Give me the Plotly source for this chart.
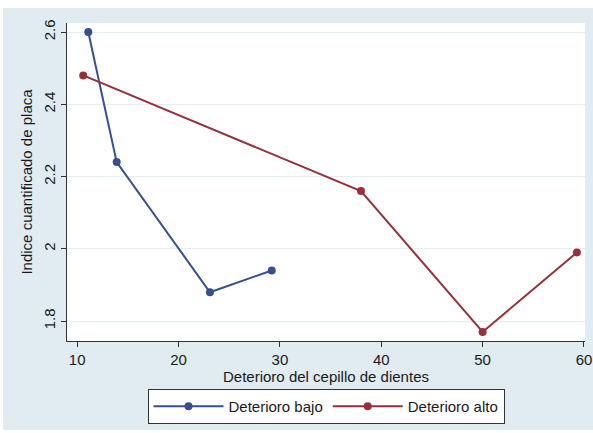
import plotly.graph_objects as go

# Data
bajo_x = [11.1, 13.9, 23.1, 29.2]
bajo_y = [2.60, 2.24, 1.88, 1.94]
alto_x = [10.6, 38.0, 50.0, 59.3]
alto_y = [2.48, 2.16, 1.77, 1.99]

x_ticks = [10, 20, 30, 40, 50, 60]
y_ticks = [1.8, 2.0, 2.2, 2.4, 2.6]
y_tick_labels = ["1.8", "2", "2.2", "2.4", "2.6"]

BLUE = "#34508f"
RED = "#98303a"
BG = "#e0ecf1"
FONT = "Liberation Sans, Arial, sans-serif"

fig = go.Figure()
fig.add_trace(go.Scatter(x=bajo_x, y=bajo_y, mode="lines+markers", name="Deterioro bajo",
                         line=dict(color=BLUE, width=2), marker=dict(color=BLUE, size=8)))
fig.add_trace(go.Scatter(x=alto_x, y=alto_y, mode="lines+markers", name="Deterioro alto",
                         line=dict(color=RED, width=2), marker=dict(color=RED, size=8)))

W, H = 593, 433
L, R, T, B = 67, 8, 23, 92
pw, ph = W - L - R, H - T - B

def px2paper_x(px):
    return (px - L) / pw

def px2paper_y(py):
    return (H - B - py) / ph

# white border strips outside the plot area (top, left, bottom)
for (x0, y0, x1, y1) in [(0, 0, 593, 8), (0, 0, 3, 433), (0, 430, 593, 433)]:
    fig.add_shape(type="rect", xref="paper", yref="paper", layer="above",
                  x0=px2paper_x(x0), x1=px2paper_x(x1), y0=px2paper_y(y1), y1=px2paper_y(y0),
                  fillcolor="white", line=dict(width=0))

fig.update_layout(
    width=W, height=H,
    margin=dict(l=L, r=R, t=T, b=B, autoexpand=False),
    paper_bgcolor=BG,
    plot_bgcolor="white",
    hovermode=False,
    font=dict(family=FONT, size=15, color="#1a1a1a"),
    showlegend=True,
    legend=dict(orientation="h", x=0.5, xanchor="center", y=px2paper_y(389), yanchor="top",
                bgcolor="white", bordercolor="#333333", borderwidth=1,
                font=dict(size=15), itemwidth=70, tracegroupgap=0),
    xaxis=dict(range=[9.0, 60.1], tickvals=x_ticks, showgrid=False, zeroline=False,
               showline=True, linecolor="#333333", linewidth=1, automargin=False,
               ticks="outside", ticklen=5, tickcolor="#333333",
               title=dict(text="Deterioro del cepillo de dientes", standoff=2,
                          font=dict(size=15))),
    yaxis=dict(range=[1.745, 2.625], tickvals=y_ticks, ticktext=y_tick_labels,
               tickangle=-90, showgrid=True, gridcolor="#e3eef2", gridwidth=1,
               zeroline=False, showline=True, linecolor="#333333", linewidth=1,
               automargin=False,
               ticks="outside", ticklen=5, tickcolor="#333333",
               title=dict(text="Indice cuantificado de placa", standoff=4,
                          font=dict(size=15))),
)

fig.write_html("out.html", config={"displayModeBar": False},
               post_script="document.body.style.margin='0';document.body.style.overflow='hidden';")
